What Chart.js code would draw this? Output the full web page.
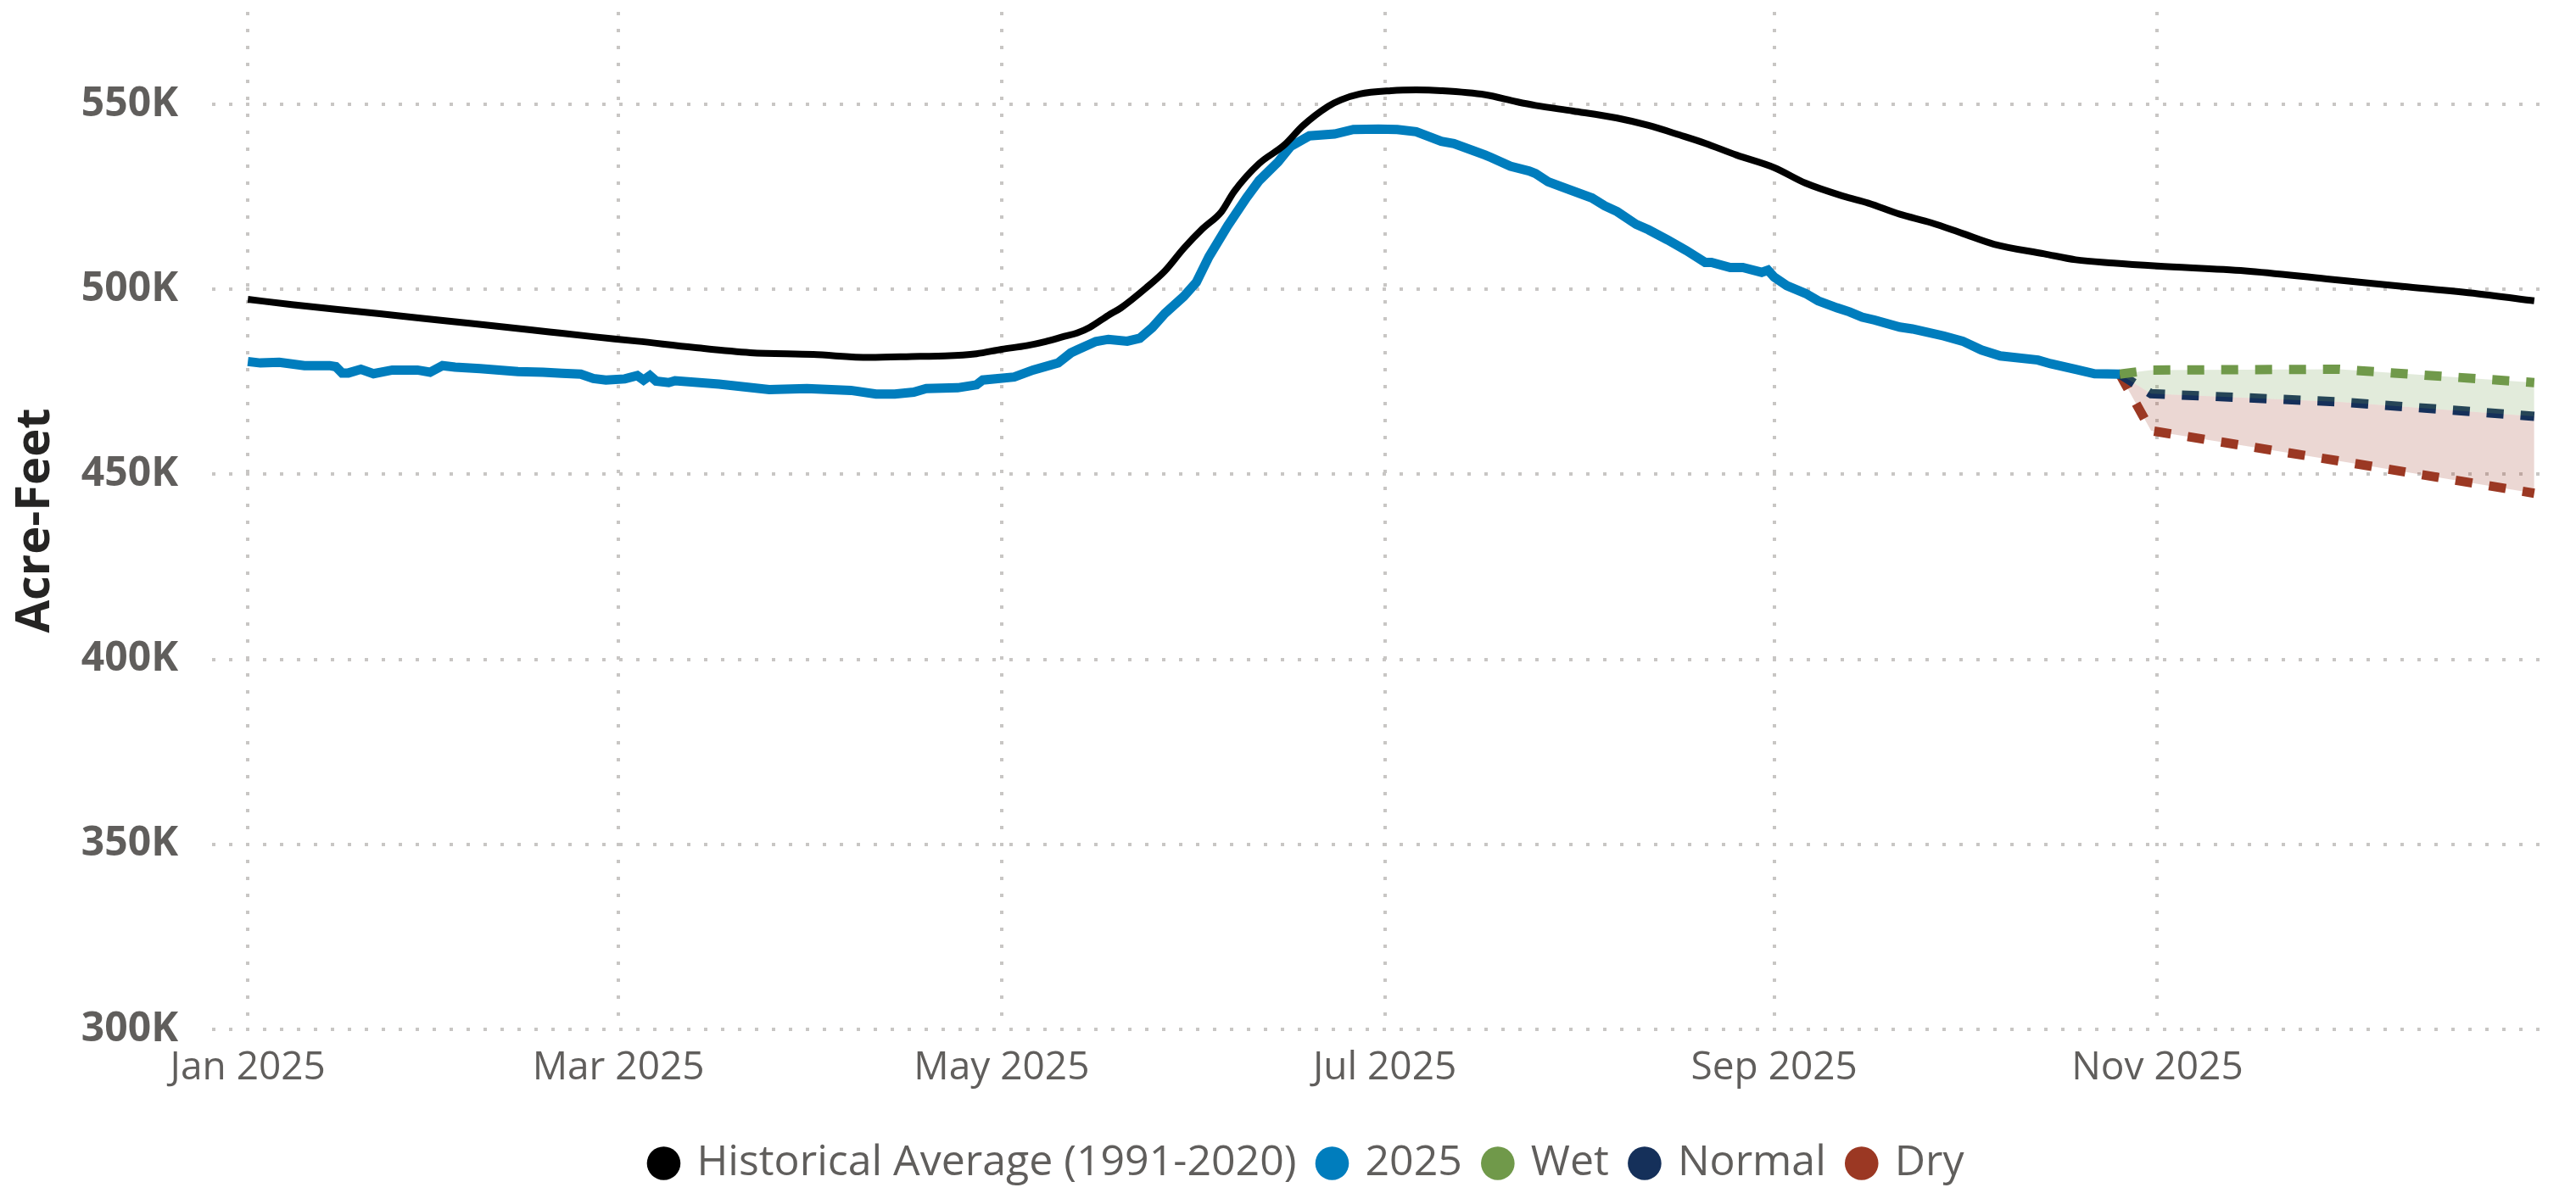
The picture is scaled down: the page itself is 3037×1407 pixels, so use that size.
<!DOCTYPE html>
<html>
<head>
<meta charset="utf-8">
<title>Reservoir Storage 2025</title>
<script src="https://cdn.jsdelivr.net/npm/chart.js@4.4.1/dist/chart.umd.min.js"></script>
<style>
    html, body { margin: 0; padding: 0; background: #ffffff; }
    #wrap { width: 3037px; height: 1407px; }
</style>
</head>
<body>
<div id="wrap"><canvas id="storageChart" width="3037" height="1407"></canvas></div>
<script>
// x values are day of year (0 = Jan 1 2025)
const xTickDays = [0, 59, 120, 181, 243, 304];
const xTickLabels = ['Jan 2025', 'Mar 2025', 'May 2025', 'Jul 2025', 'Sep 2025', 'Nov 2025'];
const yTicks = [300000, 350000, 400000, 450000, 500000, 550000];

// Historical Average (1991-2020), thousand acre-feet
const histDays = [0, 7, 14, 21, 32, 40, 48, 55, 62, 71, 80, 90, 99, 107, 111, 116, 120, 124, 127, 130,
    132, 134, 137, 139, 143, 146, 149, 152, 155, 157, 161, 165, 168, 172, 174, 177, 182, 186, 190, 197,
    202, 205, 211, 218, 223, 228, 232, 237, 243, 248, 254, 258, 263, 268, 273, 278, 286, 291, 297, 304,
    318, 331, 343, 355, 364];
const histValues = [497.3, 495.9, 494.6, 493.4, 491.4, 490.0, 488.5, 487.2, 486.0, 484.3, 482.9, 482.4, 481.6, 481.9, 482.0, 482.6, 483.8, 484.8, 485.9, 487.3,
    488.2, 489.7, 493.0, 495.0, 500.4, 505.0, 511.1, 516.4, 521.0, 526.4, 534.0, 539.0, 544.3, 549.5, 551.2, 552.8, 553.7, 553.9, 553.7, 552.6,
    550.7, 549.7, 548.2, 546.3, 544.3, 541.7, 539.5, 536.3, 532.9, 528.7, 525.2, 523.3, 520.3, 518.0, 515.1, 512.2, 509.6, 508.0, 507.1, 506.3,
    505.0, 502.8, 500.8, 498.8, 496.9];

// 2025 observed storage, thousand acre-feet
const obsDays = [0, 2, 5, 9, 13, 14, 15, 16, 18, 20, 23, 27, 29, 31, 33, 37, 43, 47, 50, 53,
    55, 57, 60, 62, 63, 64, 65, 67, 68, 75, 83, 89, 96, 100, 103, 106, 108, 113, 116, 117,
    122, 125, 129, 131, 132, 135, 137, 140, 142, 144, 146, 149, 151, 153, 156, 159, 161, 164, 166, 169,
    173, 176, 180, 183, 186, 190, 192, 197, 198, 201, 204, 205, 207, 209, 214, 216, 218, 221, 223, 226,
    229, 232, 233, 236, 238, 241, 242, 243, 245, 248, 250, 253, 255, 257, 259, 263, 265, 270, 273, 276,
    279, 285, 287, 291, 294, 298];
const obsValues = [480.5, 480.1, 480.3, 479.4, 479.4, 479.1, 477.4, 477.4, 478.4, 477.2, 478.2, 478.2, 477.6, 479.4, 479.0, 478.6, 477.8, 477.6, 477.3, 477.1,
    475.9, 475.5, 475.8, 476.7, 475.5, 476.7, 475.2, 474.8, 475.3, 474.4, 472.9, 473.2, 472.7, 471.7, 471.7, 472.2, 473.2, 473.4, 474.2, 475.5,
    476.3, 478.2, 480.1, 482.8, 483.6, 485.9, 486.5, 486.0, 486.8, 489.7, 493.5, 498.1, 501.9, 508.8, 517.2, 524.8, 529.4, 534.4, 538.6, 541.5,
    542.0, 543.2, 543.3, 543.2, 542.6, 540.0, 539.4, 536.3, 535.6, 533.3, 532.0, 531.3, 529.1, 527.8, 524.7, 522.6, 521.0, 517.6, 516.1, 513.4,
    510.5, 507.3, 507.3, 505.9, 505.9, 504.6, 505.2, 503.3, 501.0, 498.9, 496.9, 495.0, 493.9, 492.5, 491.7, 489.8, 489.3, 487.4, 486.0, 483.6,
    482.0, 480.9, 479.9, 478.4, 477.2, 477.1];

// Forecast scenarios, thousand acre-feet
const forecastDays = [298, 303, 333, 364];
const wetValues = [477.1, 478.2, 478.4, 474.8];
const normalValues = [477.1, 471.8, 469.6, 465.7];
const dryValues = [477.1, 461.8, 453.6, 444.9];

const toPoints = (days, vals) => days.map((d, i) => ({ x: d, y: vals[i] * 1000 }));

const FONT = "'Open Sans', 'Noto Sans', sans-serif";

const ctx = document.getElementById('storageChart').getContext('2d');
const storageChart = new Chart(ctx, {
    type: 'line',
    data: {
        datasets: [
            {
                label: 'Historical Average (1991-2020)',
                data: toPoints(histDays, histValues),
                borderColor: '#000000',
                backgroundColor: '#000000',
                borderWidth: 8,
                cubicInterpolationMode: 'monotone',
                pointRadius: 0,
                fill: false
            },
            {
                label: '2025',
                data: toPoints(obsDays, obsValues),
                borderColor: '#007DBD',
                backgroundColor: '#007DBD',
                borderWidth: 11,
                tension: 0,
                pointRadius: 0,
                fill: false
            },
            {
                label: 'Wet',
                data: toPoints(forecastDays, wetValues),
                borderColor: '#70994A',
                backgroundColor: 'rgba(112, 154, 74, 0.2)',
                borderWidth: 11,
                borderDash: [20, 20],
                pointRadius: 0,
                fill: { target: 3 }
            },
            {
                label: 'Normal',
                data: toPoints(forecastDays, normalValues),
                borderColor: '#15305A',
                backgroundColor: '#15305A',
                borderWidth: 11,
                borderDash: [20, 20],
                pointRadius: 0,
                fill: false
            },
            {
                label: 'Dry',
                data: toPoints(forecastDays, dryValues),
                borderColor: '#9B3823',
                backgroundColor: 'rgba(155, 56, 35, 0.2)',
                borderWidth: 11,
                borderDash: [20, 20],
                pointRadius: 0,
                fill: { target: 3 }
            }
        ]
    },
    options: {
        responsive: false,
        animation: false,
        layout: {
            padding: { top: 14, left: 74, right: 27, bottom: 0 }
        },
        scales: {
            x: {
                type: 'linear',
                min: -5.7,
                max: 367,
                afterBuildTicks: (scale) => {
                    scale.ticks = xTickDays.map(v => ({ value: v }));
                },
                afterFit: (scale) => {
                    scale.height = 105;
                    scale.paddingLeft = 0;
                    scale.paddingRight = 0;
                },
                grid: {
                    color: '#C8C6C4',
                    lineWidth: 4,
                    drawTicks: false
                },
                border: { display: false, dash: [4, 16] },
                ticks: {
                    autoSkip: false,
                    maxRotation: 0,
                    padding: 18,
                    color: '#605E5C',
                    font: { family: FONT, size: 46 },
                    callback: (value, index) => xTickLabels[index]
                }
            },
            y: {
                min: 300000,
                max: 575000,
                afterBuildTicks: (scale) => {
                    scale.ticks = yTicks.map(v => ({ value: v }));
                },
                afterFit: (scale) => {
                    scale.width = 176;
                    scale.paddingTop = 0;
                    scale.paddingBottom = 0;
                },
                grid: {
                    color: '#C8C6C4',
                    lineWidth: 4,
                    drawTicks: false
                },
                border: { display: false, dash: [4, 16] },
                ticks: {
                    padding: 40,
                    color: '#605E5C',
                    font: { family: FONT, size: 48, weight: 'bold' },
                    callback: (value) => (value / 1000) + 'K'
                },
                title: {
                    display: true,
                    text: 'Acre-Feet',
                    color: '#252423',
                    font: { family: FONT, size: 56, weight: 'bold' },
                    padding: { top: -66, bottom: 0 }
                }
            }
        },
        plugins: {
            legend: {
                position: 'bottom',
                labels: {
                    usePointStyle: true,
                    pointStyle: 'circle',
                    boxWidth: 28,
                    boxHeight: 28,
                    padding: 28,
                    color: '#605E5C',
                    font: { family: FONT, size: 50 },
                    generateLabels: (chart) => Chart.defaults.plugins.legend.labels.generateLabels(chart).map(item => {
                        const ds = chart.data.datasets[item.datasetIndex];
                        item.fillStyle = ds.borderColor;
                        item.strokeStyle = ds.borderColor;
                        item.lineWidth = 0;
                        item.lineDash = [];
                        item.pointStyle = 'circle';
                        return item;
                    })
                }
            },
            tooltip: { enabled: false }
        }
    }
});
</script>
</body>
</html>
